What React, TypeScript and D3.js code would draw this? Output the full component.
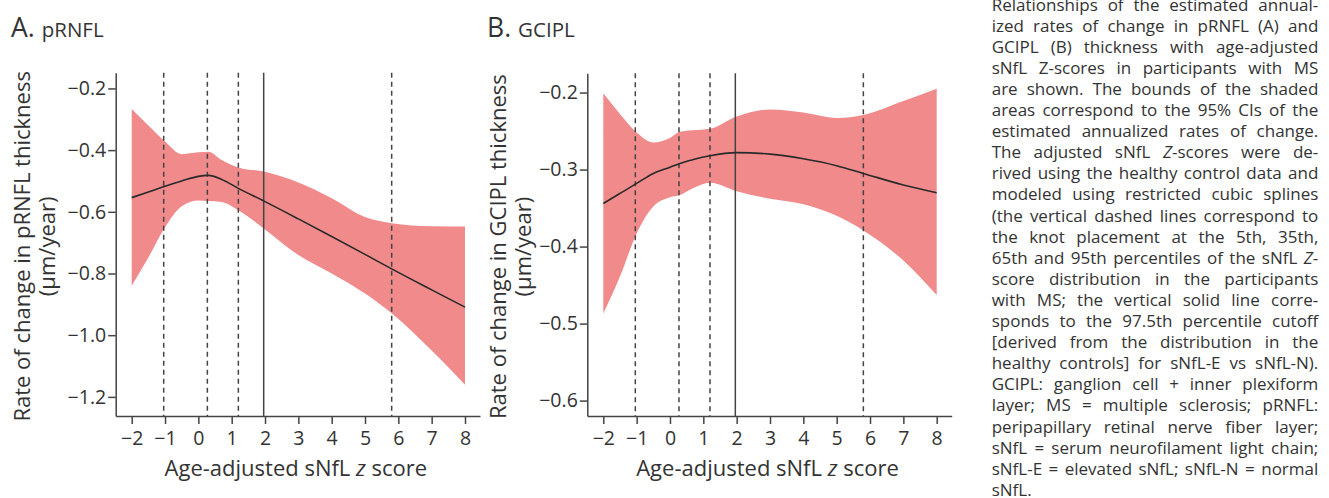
import React, { useEffect, useLayoutEffect, useRef } from "react";
import * as d3 from "d3";

// age-adjusted sNfL z score grid used for the spline estimates
const zScores = [-2, -1.5, -1, -0.5, 0, 0.3, 0.7, 1.2, 2, 3, 4, 5, 5.8, 7, 8];

// A. pRNFL annualized change (um/year)
const prnflEst = [-0.554, -0.536, -0.517, -0.5, -0.485, -0.482, -0.495, -0.524, -0.567, -0.623, -0.68, -0.738, -0.785, -0.853, -0.909];
const prnflLow = [-0.84, -0.748, -0.65, -0.582, -0.563, -0.565, -0.568, -0.595, -0.657, -0.74, -0.8, -0.865, -0.929, -1.05, -1.161];
const prnflHigh = [-0.267, -0.32, -0.372, -0.413, -0.407, -0.405, -0.432, -0.456, -0.47, -0.505, -0.556, -0.617, -0.637, -0.647, -0.648];

// B. GCIPL annualized change (um/year)
const gciplEst = [-0.344, -0.331, -0.318, -0.305, -0.297, -0.292, -0.287, -0.282, -0.278, -0.28, -0.286, -0.295, -0.305, -0.32, -0.33];
const gciplLow = [-0.487, -0.439, -0.383, -0.348, -0.336, -0.333, -0.324, -0.317, -0.328, -0.338, -0.345, -0.36, -0.379, -0.418, -0.463];
const gciplHigh = [-0.201, -0.228, -0.252, -0.265, -0.259, -0.251, -0.249, -0.247, -0.231, -0.222, -0.226, -0.233, -0.229, -0.211, -0.195];

const knots = [-1.04, 0.27, 1.2, 5.8];
const cutoff = 1.96;

const xTicks = [-2, -1, 0, 1, 2, 3, 4, 5, 6, 7, 8];
const prnflTicks = [-1.2, -1.0, -0.8, -0.6, -0.4, -0.2];
const gciplTicks = [-0.6, -0.5, -0.4, -0.3, -0.2];

// _x_ marks italic
const captionLines = [
  "Relationships of the estimated annual-",
  "ized rates of change in pRNFL (A) and",
  "GCIPL (B) thickness with age-adjusted",
  "sNfL Z-scores in participants with MS",
  "are shown. The bounds of the shaded",
  "areas correspond to the 95% CIs of the",
  "estimated annualized rates of change.",
  "The adjusted sNfL _Z_-scores were de-",
  "rived using the healthy control data and",
  "modeled using restricted cubic splines",
  "(the vertical dashed lines correspond to",
  "the knot placement at the 5th, 35th,",
  "65th and 95th percentiles of the sNfL _Z_-",
  "score distribution in the participants",
  "with MS; the vertical solid line corre-",
  "sponds to the 97.5th percentile cutoff",
  "[derived from the distribution in the",
  "healthy controls] for sNfL-E vs sNfL-N).",
  "GCIPL: ganglion cell + inner plexiform",
  "layer; MS = multiple sclerosis; pRNFL:",
  "peripapillary retinal nerve fiber layer;",
  "sNfL = serum neurofilament light chain;",
  "sNfL-E = elevated sNfL; sNfL-N = normal",
  "sNfL.",
];

const FONT = "'Open Sans', sans-serif";
const INK = "#333";
const BAND = "#f08a8b";

const Word = ({ w }: { w: string }) => (
  <>
    {w.split(/(_[^_]+_)/).filter(Boolean).map((s, i) =>
      s.startsWith("_") ? (
        <tspan key={i} fontStyle="italic">{s.slice(1, -1)}</tspan>
      ) : (
        <tspan key={i}>{s}</tspan>
      )
    )}
  </>
);

const Caption = ({ x0, x1, y0, lh }) => {
  const ref = useRef<SVGGElement>(null);
  useLayoutEffect(() => {
    const minGap = 3;
    d3.select(ref.current)
      .selectAll<SVGGElement, unknown>("g.line")
      .each(function (_, li) {
        const words = d3.select(this).selectAll<SVGTextElement, unknown>("text").nodes();
        let widths = words.map((n) => n.getComputedTextLength());
        let total = d3.sum(widths);
        const last = li === captionLines.length - 1;
        const room = x1 - x0;
        // squeeze letters a little if a line would not fit
        if (total + minGap * (words.length - 1) > room) {
          const chars = d3.sum(words, (n) => (n.textContent || "").length);
          const ls = (total + minGap * (words.length - 1) - room) / chars;
          words.forEach((n) => n.setAttribute("letter-spacing", String(-ls)));
          widths = words.map((n) => n.getComputedTextLength());
          total = d3.sum(widths);
        }
        const gap = last || words.length < 2 ? 4.5 : (room - total) / (words.length - 1);
        let x = x0;
        words.forEach((n, i) => {
          n.setAttribute("x", String(x));
          x += widths[i] + gap;
        });
      });
  }, []);
  return (
    <g ref={ref} fontFamily={FONT} fontSize={17} fill={INK}>
      {captionLines.map((line, li) => (
        <g className="line" key={li}>
          {line.split(" ").map((w, wi) => (
            <text key={wi} x={x0} y={y0 + li * lh}>
              <Word w={w} />
            </text>
          ))}
        </g>
      ))}
    </g>
  );
};

const Panel = ({ letter, name, ylab, est, low, high, yTicks, xRange, yDomain, yRange, titleX, ylabX }) => {
  const xAxisRef = useRef<SVGGElement>(null);
  const yAxisRef = useRef<SVGGElement>(null);

  const x = d3.scaleLinear().domain([-2.48, 8.45]).range(xRange);
  const y = d3.scaleLinear().domain(yDomain).range(yRange);

  useEffect(() => {
    const style = (sel) => {
      sel.attr("font-family", FONT).attr("font-size", 19.5);
      sel.select(".domain").attr("stroke", "#444").attr("stroke-width", 1.5);
      sel.selectAll(".tick line").attr("stroke", "#444").attr("stroke-width", 1.5);
      sel.selectAll(".tick text").attr("fill", INK);
    };
    d3.select(xAxisRef.current)
      .call(d3.axisBottom(x).tickValues(xTicks).tickFormat(d3.format("d")).tickSize(8).tickSizeOuter(0).tickPadding(7))
      .call(style);
    d3.select(yAxisRef.current)
      .call(d3.axisLeft(y).tickValues(yTicks).tickFormat(d3.format(".1f")).tickSize(7.5).tickSizeOuter(0).tickPadding(2))
      .call(style);
  }, []);

  const pts = zScores.map((z, i) => ({ z, est: est[i], low: low[i], high: high[i] }));
  const area = d3
    .area<any>()
    .x((d) => x(d.z))
    .y0((d) => y(d.low))
    .y1((d) => y(d.high))
    .curve(d3.curveMonotoneX);
  const line = d3
    .line<any>()
    .x((d) => x(d.z))
    .y((d) => y(d.est))
    .curve(d3.curveMonotoneX);

  const top = yRange[1];
  const bottom = yRange[0];
  const cy = (top + bottom) / 2 + 2;
  const mid = (xRange[0] + xRange[1]) / 2 - 2;

  return (
    <g>
      <text x={titleX} y={37} fontFamily={FONT} fill={INK}>
        <tspan fontSize={26.5}>{letter}.</tspan>
        <tspan fontSize={20.5} dx={7}>{name}</tspan>
      </text>
      <path d={area(pts)} fill={BAND} />
      {knots.map((k, i) => (
        <line key={i} x1={x(k)} x2={x(k)} y1={top} y2={bottom} stroke="#444" strokeWidth={1.5} strokeDasharray="5,4" />
      ))}
      <line x1={x(cutoff)} x2={x(cutoff)} y1={top} y2={bottom} stroke="#444" strokeWidth={1.5} />
      <path d={line(pts)} fill="none" stroke="#2a2a2a" strokeWidth={1.6} />
      <g ref={xAxisRef} transform={`translate(0,${bottom})`} />
      <g ref={yAxisRef} transform={`translate(${xRange[0]},0)`} />
      <text x={mid} y={476} textAnchor="middle" fontFamily={FONT} fontSize={22} fill={INK}>
        Age-adjusted sNfL <tspan fontStyle="italic">z</tspan> score
      </text>
      <g transform={`translate(${ylabX},${cy}) rotate(-90)`} fontFamily={FONT} fontSize={22} fill={INK} textAnchor="middle">
        <text x={0} y={0}>{ylab}</text>
        <text x={0} y={25}>(μm/year)</text>
      </g>
    </g>
  );
};

export default function App() {
  return (
    <svg width={1329} height={498} style={{ position: "absolute", left: 0, top: 0, background: "#fff" }}>
      <Panel
        letter="A"
        name="pRNFL"
        ylab="Rate of change in pRNFL thickness"
        est={prnflEst}
        low={prnflLow}
        high={prnflHigh}
        yTicks={prnflTicks}
        xRange={[115.7, 480]}
        yDomain={[-1.262, -0.149]}
        yRange={[416, 72.7]}
        titleX={11}
        ylabX={30}
      />
      <Panel
        letter="B"
        name="GCIPL"
        ylab="Rate of change in GCIPL thickness"
        est={gciplEst}
        low={gciplLow}
        high={gciplHigh}
        yTicks={gciplTicks}
        xRange={[587.3, 951.7]}
        yDomain={[-0.62, -0.175]}
        yRange={[416, 73.3]}
        titleX={487}
        ylabX={506}
      />
      <Caption x0={991.7} x1={1318.3} y0={10.5} lh={21.1} />
    </svg>
  );
}
